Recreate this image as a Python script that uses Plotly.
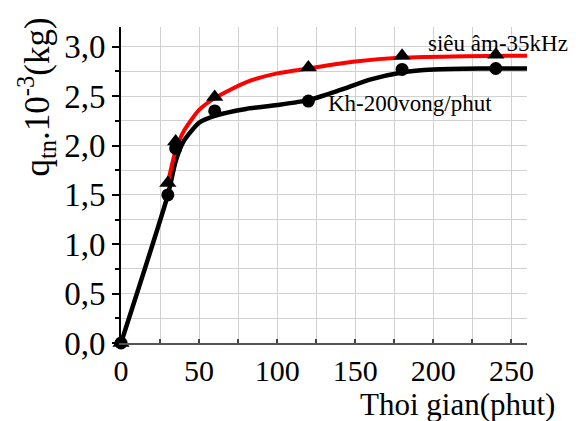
import plotly.graph_objects as go

# measured points
t_pts = [0, 30, 35, 60, 120, 180, 240]
sieuam_pts = [0.0, 1.62, 2.04, 2.49, 2.79, 2.91, 2.92]
kh_pts = [0.0, 1.50, 1.97, 2.35, 2.45, 2.77, 2.78]

# fitted curves
t_red = [30, 35, 40, 50, 60, 80, 100, 120, 150, 180, 220, 260]
red_curve = [1.62, 1.95, 2.14, 2.36, 2.48, 2.64, 2.73, 2.78, 2.85, 2.89, 2.905, 2.91]
t_black = [0, 30, 35, 40, 50, 60, 80, 100, 120, 140, 160, 180, 200, 230, 260]
black_curve = [0.0, 1.50, 1.84, 2.04, 2.23, 2.30, 2.37, 2.41, 2.46, 2.56, 2.67, 2.74, 2.77, 2.78, 2.78]

x_ticks = [0, 50, 100, 150, 200, 250]
y_ticks = [0.0, 0.5, 1.0, 1.5, 2.0, 2.5, 3.0]

FONT = "Liberation Serif"

fig = go.Figure()
fig.add_trace(go.Scatter(x=t_black, y=black_curve, mode="lines",
                         line=dict(color="black", width=4.5, shape="spline", smoothing=0.6),
                         showlegend=False, hoverinfo="skip"))
fig.add_trace(go.Scatter(x=t_red, y=red_curve, mode="lines",
                         line=dict(color="#ff0000", width=4, shape="spline", smoothing=0.6),
                         showlegend=False, hoverinfo="skip"))
fig.add_trace(go.Scatter(x=t_pts, y=kh_pts, mode="markers",
                         marker=dict(symbol="circle", size=13, color="black"),
                         cliponaxis=False, showlegend=False))
fig.add_trace(go.Scatter(x=t_pts, y=sieuam_pts, mode="markers",
                         marker=dict(symbol="triangle-up", size=15, color="black"),
                         cliponaxis=False, showlegend=False))

fig.update_layout(
    width=576, height=421,
    margin=dict(l=121, r=49, t=27, b=78),
    paper_bgcolor="white", plot_bgcolor="white",
    separators=",.",
    font=dict(family=FONT, color="black"),
    showlegend=False,
    xaxis=dict(range=[0, 260], tickvals=x_ticks, ticks="inside", ticklen=4,
               tickcolor="#444", tickwidth=1.5,
               showline=True, linecolor="#555", linewidth=2,
               showgrid=False, zeroline=False,
               tickfont=dict(family=FONT, size=30, color="black"),
               minor=dict(dtick=25, tick0=0, ticks="inside", ticklen=4, tickcolor="#444",
                          showgrid=True, gridcolor="#d0d0d0", gridwidth=1)),
    yaxis=dict(range=[0, 3.2], tickvals=y_ticks, tickformat=".1f", ticks="outside", ticklen=7,
               tickcolor="black", tickwidth=1.5,
               showline=True, linecolor="black", linewidth=2,
               showgrid=False, zeroline=False,
               tickfont=dict(family=FONT, size=33, color="black"),
               minor=dict(dtick=0.25, tick0=0, ticks="outside", ticklen=4, tickcolor="black",
                          showgrid=True, gridcolor="#d0d0d0", gridwidth=1)),
)

fig.add_annotation(text="Thoi gian(phut)", xref="paper", yref="paper",
                   x=1.074, y=-0.256, xanchor="right", yanchor="bottom",
                   showarrow=False, font=dict(family=FONT, size=31, color="black"))
fig.add_annotation(text="q<sub>tn</sub>.10<sup>-3</sup>(kg)", xref="paper", yref="paper",
                   x=-0.207, y=0.78, xanchor="center", yanchor="middle", textangle=-90,
                   showarrow=False, font=dict(family=FONT, size=35, color="black"))
fig.add_annotation(text="siêu âm-35kHz", x=195, y=3.03, xanchor="left", yanchor="middle",
                   showarrow=False, font=dict(family=FONT, size=23, color="black"))
fig.add_annotation(text="Kh-200vong/phut", x=131.5, y=2.43, xanchor="left", yanchor="middle",
                   showarrow=False, font=dict(family=FONT, size=23, color="black"))

fig.write_html("out.html")
